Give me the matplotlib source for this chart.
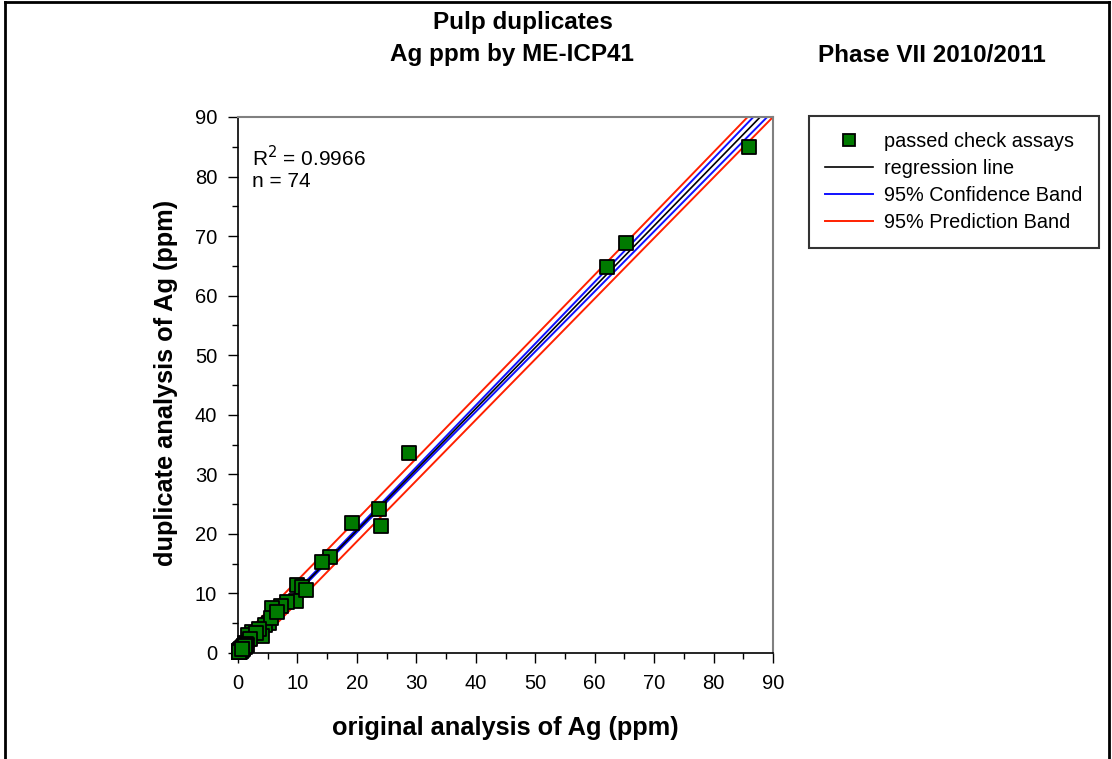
import numpy as np
import matplotlib.pyplot as plt
from matplotlib.lines import Line2D

plt.rcParams['font.family'] = ['Liberation Sans', 'DejaVu Sans']

# original vs duplicate Ag assays (ppm)
orig = [86.0, 65.3, 62.1, 28.8, 23.7, 24.1, 19.2, 15.5, 14.2, 9.9,
        10.8, 9.8, 8.2, 7.2, 5.7, 5.2, 4.5, 4.0, 2.4, 1.7,
        1.2, 11.5, 5.5, 3.5, 3.0, 6.5, 2.0, 1.5, 1.0, 0.8,
        0.6, 0.5, 0.4, 0.3, 0.2, 0.2, 0.1, 0.1, 0.3, 0.5,
        0.7, 0.9, 1.1, 1.3, 0.4, 0.2, 0.6, 0.8, 0.3, 0.1,
        0.2, 0.4, 0.5, 0.7, 1.0, 1.4, 0.9, 0.3, 0.6, 0.2,
        0.1, 0.4, 0.5, 0.3, 0.8, 1.2, 0.2, 0.7, 0.1, 0.3,
        0.5, 0.4, 0.2, 0.6]
dup = [85.0, 68.8, 64.8, 33.6, 24.2, 21.4, 21.8, 16.1, 15.3, 11.5,
       11.1, 8.7, 8.6, 7.9, 7.6, 5.0, 4.7, 2.9, 3.5, 3.0,
       1.7, 10.6, 5.8, 4.0, 3.3, 6.9, 2.4, 1.3, 1.1, 0.7,
       0.7, 0.4, 0.5, 0.3, 0.3, 0.1, 0.2, 0.1, 0.4, 0.6,
       0.6, 1.0, 1.0, 1.5, 0.3, 0.2, 0.5, 0.9, 0.4, 0.1,
       0.3, 0.3, 0.6, 0.8, 1.2, 1.3, 0.8, 0.2, 0.7, 0.3,
       0.1, 0.5, 0.4, 0.3, 0.9, 1.1, 0.2, 0.6, 0.1, 0.4,
       0.5, 0.3, 0.2, 0.7]
r2_label = "R$^2$ = 0.9966"
n_label = "n = 74"

x = np.array(orig)
y = np.array(dup)
n = len(x)
slope, icpt = np.polyfit(x, y, 1)
resid = y - (slope * x + icpt)
s = np.sqrt(np.sum(resid ** 2) / (n - 2))
t = 1.993  # t(0.975, df=72)
xm = x.mean()
sxx = np.sum((x - xm) ** 2)

xf = np.linspace(0, 90, 400)
yf = slope * xf + icpt
ci = t * s * np.sqrt(1.0 / n + (xf - xm) ** 2 / sxx)
pi = t * s * np.sqrt(1 + 1.0 / n + (xf - xm) ** 2 / sxx)

W, H = 1112, 759
fig = plt.figure(figsize=(W / 100, H / 100), dpi=100)
ax = fig.add_axes([238 / W, 1 - 653 / H, 535 / W, 536 / H])

green = '#007a00'
ax.plot(xf, yf + pi, color='#ff2000', lw=1.4, zorder=2)
ax.plot(xf, yf - pi, color='#ff2000', lw=1.4, zorder=2)
ax.plot(xf, yf + ci, color='#1010ff', lw=1.4, zorder=2)
ax.plot(xf, yf - ci, color='#1010ff', lw=1.4, zorder=2)
ax.plot(xf, yf, color='black', lw=1.2, zorder=2)
ax.scatter(x, y, marker='s', s=115, c=green, edgecolors='black',
           linewidths=1.3, zorder=3, clip_on=False)

ax.set_xlim(0, 90)
ax.set_ylim(0, 90)
ax.set_xticks(np.arange(0, 91, 10))
ax.set_yticks(np.arange(0, 91, 10))
ax.set_xticks(np.arange(5, 90, 10), minor=True)
ax.set_yticks(np.arange(5, 90, 10), minor=True)
ax.tick_params(which='major', direction='out', length=7, width=1, labelsize=14.5, pad=8)
ax.tick_params(which='minor', direction='out', length=4, width=1)
for sp in ['top', 'right']:
    ax.spines[sp].set_color('#808080')
    ax.spines[sp].set_linewidth(1.5)
for sp in ['left', 'bottom']:
    ax.spines[sp].set_linewidth(1.2)

fig.text(505 / W, 1 - 728 / H, 'original analysis of Ag (ppm)', fontsize=18.3,
         fontweight='bold', ha='center', va='center')
fig.text(166 / W, 1 - 383 / H, 'duplicate analysis of Ag (ppm)', fontsize=18.3,
         fontweight='bold', ha='center', va='center', rotation=90)

ax.text(0.027, 0.925, r2_label, transform=ax.transAxes, fontsize=15, va='center')
ax.text(0.027, 0.880, n_label, transform=ax.transAxes, fontsize=15, va='center')

fig.text(523 / W, 1 - 22 / H, 'Pulp duplicates', fontsize=17.5, fontweight='bold', ha='center', va='center')
fig.text(512 / W, 1 - 55 / H, 'Ag ppm by ME-ICP41', fontsize=17.5, fontweight='bold', ha='center', va='center')
fig.text(932 / W, 1 - 55 / H, 'Phase VII 2010/2011', fontsize=17.5, fontweight='bold', ha='center', va='center')

handles = [
    Line2D([], [], ls='none', marker='s', ms=9, mfc=green, mec='black', mew=1.3),
    Line2D([], [], color='black', lw=1.2),
    Line2D([], [], color='#1010ff', lw=1.4),
    Line2D([], [], color='#ff2000', lw=1.4),
]
labels = ['passed check assays', 'regression line', '95% Confidence Band', '95% Prediction Band']
leg = fig.legend(handles, labels, loc='upper left', bbox_to_anchor=(809 / W, 1 - 116 / H),
                 fontsize=14.3, frameon=True, fancybox=False, handlelength=2.4,
                 borderpad=0.8, labelspacing=0.4, handletextpad=0.6, borderaxespad=0)
leg.get_frame().set_edgecolor('black')
leg.get_frame().set_linewidth(1.5)

# outer border (left, top, right)
fig.add_artist(Line2D([5 / W, 5 / W], [0, 1 - 2 / H], color='black', lw=2, transform=fig.transFigure))
fig.add_artist(Line2D([5 / W, 1109 / W], [1 - 2 / H, 1 - 2 / H], color='black', lw=2, transform=fig.transFigure))
fig.add_artist(Line2D([1109 / W, 1109 / W], [0, 1 - 2 / H], color='black', lw=2, transform=fig.transFigure))

fig.savefig('out.png', dpi=100)
